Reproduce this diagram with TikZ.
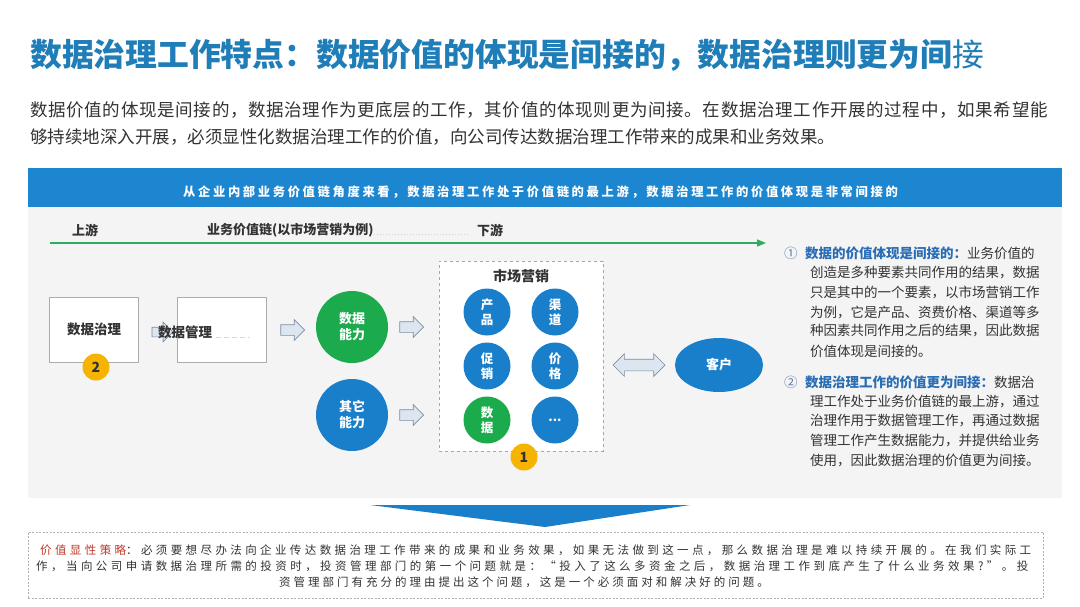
\documentclass[tikz,border=0pt]{standalone}
\usepackage{fontspec}
\setmainfont{Noto Sans CJK SC}
\usetikzlibrary{shapes.geometric,shapes.arrows,arrows.meta,calc}
\definecolor{titleblue}{HTML}{1F7DB8}
\definecolor{bannerblue}{HTML}{1C86D1}
\definecolor{cblue}{HTML}{1A7FCB}
\definecolor{cgreen}{HTML}{1BAA4C}
\definecolor{txt}{HTML}{333333}
\definecolor{panelgray}{HTML}{F4F4F4}
\definecolor{badgey}{HTML}{F6B400}
\definecolor{arrowfill}{HTML}{DCE5F0}
\definecolor{arrowdraw}{HTML}{7D8CA3}
\definecolor{lineg}{HTML}{2EAE5C}
\definecolor{headblue}{HTML}{2A6DB5}
\definecolor{redtxt}{HTML}{C0392B}
\definecolor{circnum}{HTML}{5B7DA8}
\newcommand{\fs}[2]{\fontsize{#1}{#2}\selectfont}
\begin{document}
\begin{tikzpicture}[x=1pt,y=-1pt,
  box/.style={draw=gray!65, fill=white, line width=0.8pt, minimum width=89pt, minimum height=65pt, inner sep=0pt},
  bigc/.style={circle, minimum size=72pt, inner sep=0pt, text=white, font=\bfseries\fs{13}{16}, align=center},
  smallc/.style={circle, minimum size=47pt, inner sep=0pt, fill=cblue, text=white, font=\bfseries\fs{12.5}{15}, align=center},
  badgec/.style={circle, fill=badgey, minimum size=27pt, inner sep=0pt, font=\bfseries\fs{14}{14}, text=txt},
  blockarr/.style={single arrow, draw=arrowdraw, fill=arrowfill, line width=0.7pt, minimum height=24pt, text height=5pt, text depth=5pt, text width=0pt, single arrow head extend=5pt, inner sep=0pt},
  lbl/.style={inner sep=0pt, font=\bfseries\fs{13}{15}, text=txt},
  body/.style={inner sep=0pt, anchor=west, font=\fs{13.5}{16}, text=txt},
]
\useasboundingbox (0,0) rectangle (1080,606);
\fill[white] (0,0) rectangle (1080,606);

% title
\node[anchor=west, inner sep=0pt, text=titleblue, font=\bfseries\fs{31.8}{36}] (title) at (30,55)
  {数据治理工作特点：数据价值的体现是间接的，数据治理则更为间{\mdseries 接}};

% intro paragraph
\node[anchor=west, inner sep=0pt, text=txt, font=\fs{17.5}{20}] (p1) at (30,110)
  {\addfontfeature{LetterSpace=3.9}数据价值的体现是间接的，数据治理作为更底层的工作，其价值的体现则更为间接。在数据治理工作开展的过程中，如果希望能};
\node[anchor=west, inner sep=0pt, text=txt, font=\fs{17.5}{20}] (p2) at (30,137)
  {够持续地深入开展，必须显性化数据治理工作的价值，向公司传达数据治理工作带来的成果和业务效果。};

% panel and banner
\fill[panelgray] (28,207) rectangle (1062,498);
\fill[bannerblue] (28,168) rectangle (1062,207);
\node[anchor=west, inner sep=0pt, text=white, font=\bfseries\fs{12.3}{14}] (banner) at (183,192)
  {\addfontfeature{LetterSpace=21.5}从企业内部业务价值链角度来看，数据治理工作处于价值链的最上游，数据治理工作的价值体现是非常间接的};

% value chain header
\node[lbl, anchor=west] (up) at (72,230) {上游};
\node[lbl, anchor=west] (chain) at (207,230) {业务价值链(以市场营销为例)};
\node[lbl, anchor=west] (down) at (477,230) {下游};
\draw[gray!35, line width=1pt, dotted] (374,234) -- (470,234);
\coordinate (gs) at (50,243);
\coordinate (ge) at (766,243);
\draw[lineg, line width=1.6pt, -{Triangle[length=9pt,width=7pt]}] (gs) -- (ge);

% left boxes
\node[box, font=\bfseries\fs{13.5}{15}, text=txt] (gov) at (94,329.5) {数据治理};
\node[badgec] (b2) at (96,367) {2};
\node[box] (mgmt) at (222,329.5) {};
\node[blockarr, minimum height=21pt, text height=4.5pt, text depth=4.5pt] (a1) at (160,332) {};
\node[lbl, anchor=west, font=\bfseries\fs{13.5}{15}] (mgmtl) at (158,332) {数据管理};
\draw[gray!30, line width=1pt, dash pattern=on 5pt off 3pt] (216,337) -- (250,337);

% capability circles
\node[blockarr] (a2) at (290,330) {};
\node[bigc, fill=cgreen] (dcap) at (352,327) {数据\\能力};
\node[bigc, fill=cblue] (ocap) at (352,415) {其它\\能力};
\node[blockarr] (a3) at (409,327) {};
\node[blockarr] (a4) at (409,415) {};

% marketing box
\node[draw=gray!70, dashed, fill=white, line width=0.8pt, minimum width=164pt, minimum height=190pt, inner sep=0pt] (mkt) at (521,356) {};
\node[lbl, font=\bfseries\fs{14}{16}] (mktt) at (521,276) {市场营销};
\node[smallc] (prod) at (487,312) {产\\品};
\node[smallc] (chan) at (555,312) {渠\\道};
\node[smallc] (promo) at (487,366) {促\\销};
\node[smallc] (price) at (555,366) {价\\格};
\node[smallc, fill=cgreen] (data) at (487,420) {数\\据};
\node[smallc] (more) at (555,420) {...};
\node[badgec] (b1) at (524,457) {1};

% customer
\node[double arrow, draw=arrowdraw, fill=arrowfill, line width=0.7pt, minimum height=52pt, text height=5.5pt, text depth=5.5pt, text width=0pt, double arrow head extend=5.5pt, inner sep=0pt] (da) at (639,365) {};
\node[ellipse, fill=cblue, minimum width=88pt, minimum height=54pt, inner sep=0pt, text=white, font=\bfseries\fs{13}{15}] (cust) at (719,365) {客户};

% right explanation
\node[body, text=circnum] (n1) at (784,253) {①};
\node[body] (r1) at (805,253) {{\bfseries\color{headblue}数据的价值体现是间接的：}业务价值的};
\node[body] (r2) at (810,273) {创造是多种要素共同作用的结果，数据};
\node[body] (r3) at (810,292) {只是其中的一个要素，以市场营销工作};
\node[body] (r4) at (810,312) {为例，它是产品、资费价格、渠道等多};
\node[body] (r5) at (810,331) {种因素共同作用之后的结果，因此数据};
\node[body] (r6) at (810,351) {价值体现是间接的。};
\node[body, text=circnum] (n2) at (784,382) {②};
\node[body] (s1) at (805,382) {{\bfseries\color{headblue}数据治理工作的价值更为间接：}数据治};
\node[body] (s2) at (810,402) {理工作处于业务价值链的最上游，通过};
\node[body] (s3) at (810,421) {治理作用于数据管理工作，再通过数据};
\node[body] (s4) at (810,441) {管理工作产生数据能力，并提供给业务};
\node[body] (s5) at (810,461) {使用，因此数据治理的价值更为间接。};

% wedge
\fill[cblue] (370,505) -- (690,505) -- (545,527) -- cycle;

% strategy box
\node[draw=gray!60, dash pattern=on 2pt off 1.5pt, fill=white, line width=0.8pt, minimum width=1015pt, minimum height=66pt, inner sep=0pt] (strat) at (535.5,565) {};
\node[anchor=west, inner sep=0pt, text=txt, font=\fs{11.5}{13}] (t1) at (40,550)
  {\addfontfeature{LetterSpace=29.5}{\color{redtxt}价值显性策略}：必须要想尽办法向企业传达数据治理工作带来的成果和业务效果，如果无法做到这一点，那么数据治理是难以持续开展的。在我们实际工};
\node[anchor=west, inner sep=0pt, text=txt, font=\fs{11.5}{13}] (t2) at (36,566)
  {\addfontfeature{LetterSpace=30}作，当向公司申请数据治理所需的投资时，投资管理部门的第一个问题就是：“投入了这么多资金之后，数据治理工作到底产生了什么业务效果?”。投};
\node[inner sep=0pt, text=txt, font=\fs{11.5}{13}] (t3) at (524,582)
  {\addfontfeature{LetterSpace=26}资管理部门有充分的理由提出这个问题，这是一个必须面对和解决好的问题。};
\end{tikzpicture}
\end{document}
